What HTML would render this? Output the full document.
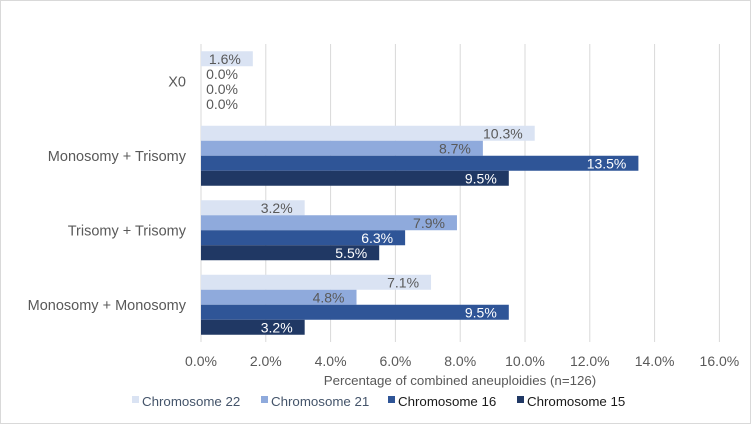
<!DOCTYPE html>
<html><head><meta charset="utf-8"><style>
body{margin:0;background:#fff;}
svg{display:block;font-family:"Liberation Sans",sans-serif;}
</style></head><body>
<svg width="751" height="424">
<rect x="0.5" y="0.5" width="750" height="423" fill="#fff" stroke="#d9d9d9"/>
<g id="grid"></g><g id="bars"></g><g id="labels"></g>
<text x="460" y="385" text-anchor="middle" font-size="13.3" fill="#595959">Percentage of combined aneuploidies (n=126)</text>
<g id="legend"></g>
</svg>
<script>
const categories=["X0","Monosomy + Trisomy","Trisomy + Trisomy","Monosomy + Monosomy"];
const seriesNames=["Chromosome 22","Chromosome 21","Chromosome 16","Chromosome 15"];
const ch22=[1.6,10.3,3.2,7.1];
const ch21=[0.0,8.7,7.9,4.8];
const ch16=[0.0,13.5,6.3,9.5];
const ch15=[0.0,9.5,5.5,3.2];
const ticks=[0,2,4,6,8,10,12,14,16];
const tickLabels=["0.0%","2.0%","4.0%","6.0%","8.0%","10.0%","12.0%","14.0%","16.0%"];
const series=[ch22,ch21,ch16,ch15];
const colors=["#dae3f3","#8faadc","#2f5597","#203864"];
const textCol=["#595959","#595959","#fff","#fff"];
const legendText=["#44546a","#44546a","#1a1a1a","#1a1a1a"];
const NS="http://www.w3.org/2000/svg";
const x0=201,pxPer=32.4,plotTop=44,plotBottom=342;
const band=(plotBottom-plotTop)/categories.length,bh=15;
const X=v=>x0+v*pxPer;
function mk(t,a,p){const e=document.createElementNS(NS,t);for(const k in a)e.setAttribute(k,a[k]);p.appendChild(e);return e;}
const grid=document.getElementById('grid'),bars=document.getElementById('bars'),labels=document.getElementById('labels'),legend=document.getElementById('legend');
ticks.forEach((t,i)=>{
 const l=mk('line',{x1:X(t),x2:X(t),y1:plotTop,y2:plotBottom,stroke:'#d9d9d9','stroke-width':1},grid);
 
 
 const tx=mk('text',{x:X(t),y:366,'text-anchor':'middle','font-size':14,fill:'#595959'},grid);
 tx.textContent=tickLabels[i];
 
 
});
categories.forEach((c,ci)=>{
 const gy=plotTop+ci*band+(band-4*bh)/2;
 const cl=mk('text',{x:186,y:plotTop+ci*band+band/2+5,'text-anchor':'end','font-size':14.5,fill:'#595959'},labels);
 cl.textContent=c;
 
 
 series.forEach((s,si)=>{
  const y=gy+si*bh,v=s[ci];
  const r=mk('rect',{x:x0,y:y,width:Math.max(0,X(v)-x0),height:bh,fill:colors[si]},bars);
  
  
  const t=mk('text',{x:v>0?X(v)-12:x0+37,y:y+12.5,'text-anchor':'end','font-size':14,fill:v>0?textCol[si]:'#595959'},labels);
  t.textContent=v.toFixed(1)+'%';
  
  
 });
});
const legendX=[142,271,398,527];
seriesNames.forEach((n,i)=>{
 const g=mk('g',{},legend);
 
 
 mk('rect',{x:legendX[i]-10,y:396,width:7,height:7,fill:colors[i]},g);
 const t=mk('text',{x:legendX[i],y:406,'font-size':13.3,fill:legendText[i]},g);
 t.textContent=n;
});
</script>
</body></html>
